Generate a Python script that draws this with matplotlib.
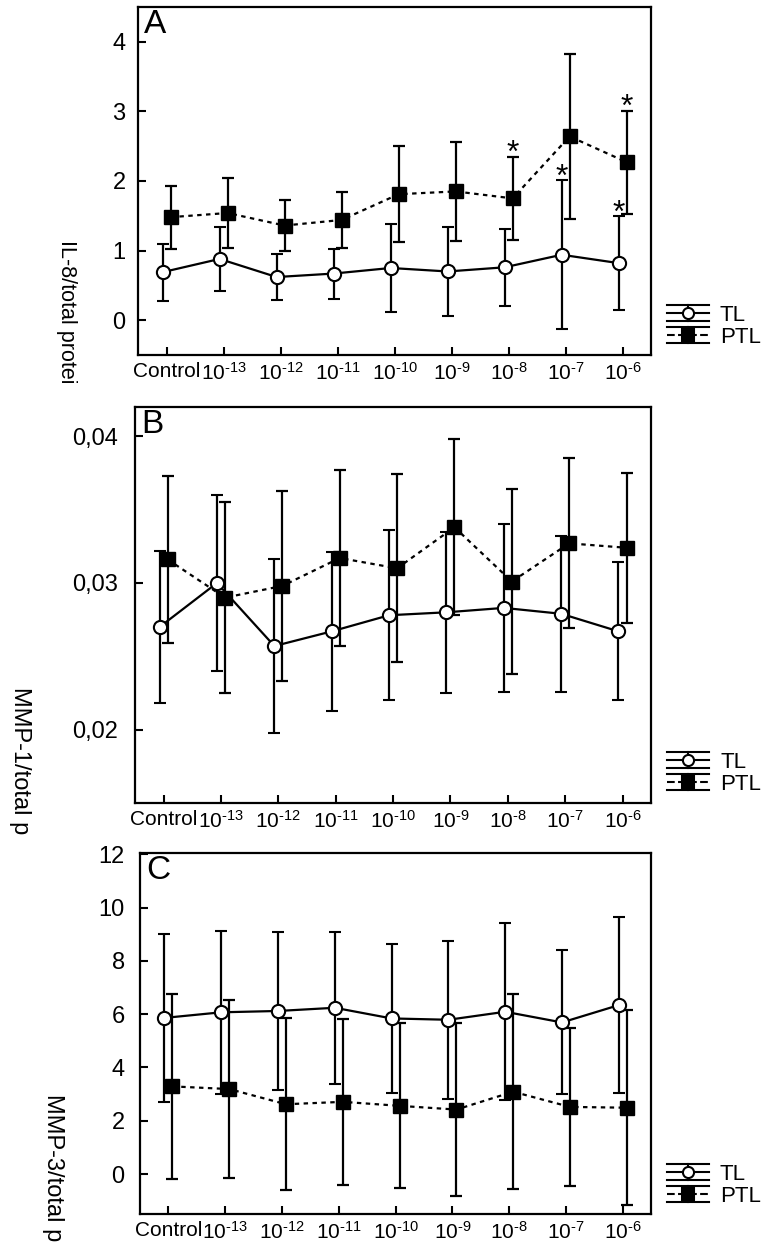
import numpy as np
import matplotlib
matplotlib.use("Agg")
import matplotlib.pyplot as plt
from matplotlib.lines import Line2D
from matplotlib.legend_handler import HandlerBase

plt.rcParams['font.family'] = ['Liberation Sans', 'DejaVu Sans']
plt.rcParams['mathtext.fontset'] = 'custom'
plt.rcParams['mathtext.rm'] = 'Liberation Sans'
plt.rcParams['mathtext.it'] = 'Liberation Sans:italic'
plt.rcParams['mathtext.bf'] = 'Liberation Sans:bold'
plt.rcParams['mathtext.default'] = 'regular'

# x categories (concentrations); superscript uses a short hyphen like the original
conc_labels = ['Control', '10$^{\u201013}$', '10$^{\u201012}$', '10$^{\u201011}$', '10$^{\u201010}$',
               '10$^{\u20109}$', '10$^{\u20108}$', '10$^{\u20107}$', '10$^{\u20106}$']

# A: IL-8 / total protein
il8_tl = [0.69, 0.88, 0.62, 0.67, 0.75, 0.70, 0.76, 0.94, 0.82]
il8_tl_err = [0.41, 0.46, 0.33, 0.36, 0.63, 0.64, 0.55, 1.07, 0.67]
il8_ptl = [1.48, 1.54, 1.36, 1.44, 1.81, 1.85, 1.75, 2.64, 2.27]
il8_ptl_err = [0.45, 0.50, 0.36, 0.40, 0.69, 0.71, 0.60, 1.18, 0.74]
il8_star_tl = [7, 8]
il8_star_ptl = [6, 8]

# B: MMP-1 / total protein
mmp1_tl = [0.0270, 0.0300, 0.0257, 0.0267, 0.0278, 0.0280, 0.0283, 0.0279, 0.0267]
mmp1_tl_err = [0.0052, 0.0060, 0.0059, 0.0054, 0.0058, 0.0055, 0.0057, 0.0053, 0.0047]
mmp1_ptl = [0.0316, 0.0290, 0.0298, 0.0317, 0.0310, 0.0338, 0.0301, 0.0327, 0.0324]
mmp1_ptl_err = [0.0057, 0.0065, 0.0065, 0.0060, 0.0064, 0.0060, 0.0063, 0.0058, 0.0051]

# C: MMP-3 / total protein
mmp3_tl = [5.86, 6.07, 6.12, 6.24, 5.84, 5.79, 6.09, 5.69, 6.34]
mmp3_tl_err = [3.15, 3.05, 2.95, 2.85, 2.80, 2.97, 3.32, 2.70, 3.30]
mmp3_ptl = [3.29, 3.19, 2.62, 2.71, 2.56, 2.42, 3.09, 2.52, 2.49]
mmp3_ptl_err = [3.46, 3.35, 3.23, 3.12, 3.09, 3.25, 3.65, 2.95, 3.65]


class ErrHandler(HandlerBase):
    # legend glyph: caps above/below, line with marker in the middle
    def create_artists(self, legend, orig, xd, yd, w, h, fontsize, trans):
        x0, x1 = -xd, -xd + w
        y0, y1 = -yd - 1, -yd + h + 1
        xm, ym = (x0 + x1) / 2, (y0 + y1) / 2
        arts = [Line2D([x0, x1], [y0, y0], color='k', lw=1.5),
                Line2D([x0, x1], [y1, y1], color='k', lw=1.5),
                Line2D([xm, xm], [y0, y1], color='k', lw=1.5),
                Line2D([x0, x1], [ym, ym], color='k', lw=1.5, ls=orig.get_linestyle()),
                Line2D([xm], [ym], ls='none', marker=orig.get_marker(), ms=8,
                       mfc=orig.get_markerfacecolor(), mec='k', mew=1.5)]
        for a in arts:
            a.set_transform(trans)
        return arts


fig = plt.figure(figsize=(7.67, 12.43), dpi=100)
x = np.arange(len(conc_labels))
off = 0.07


def panel(rect, tl, tl_err, ptl, ptl_err, letter, ylim, yticks, yticklabels, ypad):
    ax = fig.add_axes(rect)
    h1 = ax.errorbar(x - off, tl, yerr=tl_err, fmt='-o', color='k', lw=1.6,
                     ms=9.5, mfc='white', mec='k', mew=1.5,
                     elinewidth=1.6, capsize=4, capthick=1.6, zorder=3)
    h2 = ax.errorbar(x + off, ptl, yerr=ptl_err, fmt='s', ls=(0, (2, 2)), color='k', lw=1.6,
                     ms=9.5, mfc='k', mec='k', elinewidth=1.6, capsize=4, capthick=1.6, zorder=2)
    ax.set_xlim(-0.5, 8.5)
    ax.set_ylim(*ylim)
    ax.set_xticks(x)
    ax.set_xticklabels(conc_labels, fontsize=15)
    ax.set_yticks(yticks)
    ax.set_yticklabels(yticklabels, fontsize=17)
    ax.tick_params(direction='in', length=6, width=1.5)
    ax.tick_params(axis='x', pad=5)
    ax.tick_params(axis='y', pad=ypad)
    for s in ax.spines.values():
        s.set_linewidth(1.6)
    ax.text(0.012, 0.995, letter, transform=ax.transAxes, fontsize=24, ha='left', va='top')
    ax.legend([h1[0], h2[0]], ['TL', 'PTL'], handler_map={Line2D: ErrHandler()},
              loc='lower left', bbox_to_anchor=(1.03, 0.02), frameon=False, fontsize=16,
              handlelength=1.9, handleheight=0.55, labelspacing=0.05, handletextpad=0.5,
              borderpad=0, borderaxespad=0)
    return ax


axA = panel([0.180, 0.7144, 0.669, 0.280], il8_tl, il8_tl_err, il8_ptl, il8_ptl_err, 'A',
            (-0.5, 4.5), [0, 1, 2, 3, 4], ['0', '1', '2', '3', '4'], 9)
for i in il8_star_tl:
    axA.annotate('*', (x[i] - off, il8_tl[i] + il8_tl_err[i]), xytext=(0, -4),
                 textcoords='offset points', ha='center', va='baseline', fontsize=23)
for i in il8_star_ptl:
    axA.annotate('*', (x[i] + off, il8_ptl[i] + il8_ptl_err[i]), xytext=(0, -4),
                 textcoords='offset points', ha='center', va='baseline', fontsize=23)

axB = panel([0.176, 0.354, 0.673, 0.3186], mmp1_tl, mmp1_tl_err, mmp1_ptl, mmp1_ptl_err, 'B',
            (0.015, 0.042), [0.02, 0.03, 0.04], ['0,02', '0,03', '0,04'], 12)

axC = panel([0.1825, 0.0233, 0.6665, 0.2905], mmp3_tl, mmp3_tl_err, mmp3_ptl, mmp3_ptl_err, 'C',
            (-1.5, 12.05), [0, 2, 4, 6, 8, 10, 12], ['0', '2', '4', '6', '8', '10', '12'], 11)

# y labels (truncated as in the original figure)
fig.text(0.087, 1 - 240 / 1243, 'IL-8/total protei', rotation=270, ha='center', va='top',
         fontsize=15.5)
fig.text(0.026, 1 - 687 / 1243, 'MMP-1/total p', rotation=270, ha='center', va='top',
         fontsize=17)
fig.text(0.069, 1 - 1094 / 1243, 'MMP-3/total p', rotation=270, ha='center', va='top',
         fontsize=17)

fig.savefig('out.png', dpi=100)
